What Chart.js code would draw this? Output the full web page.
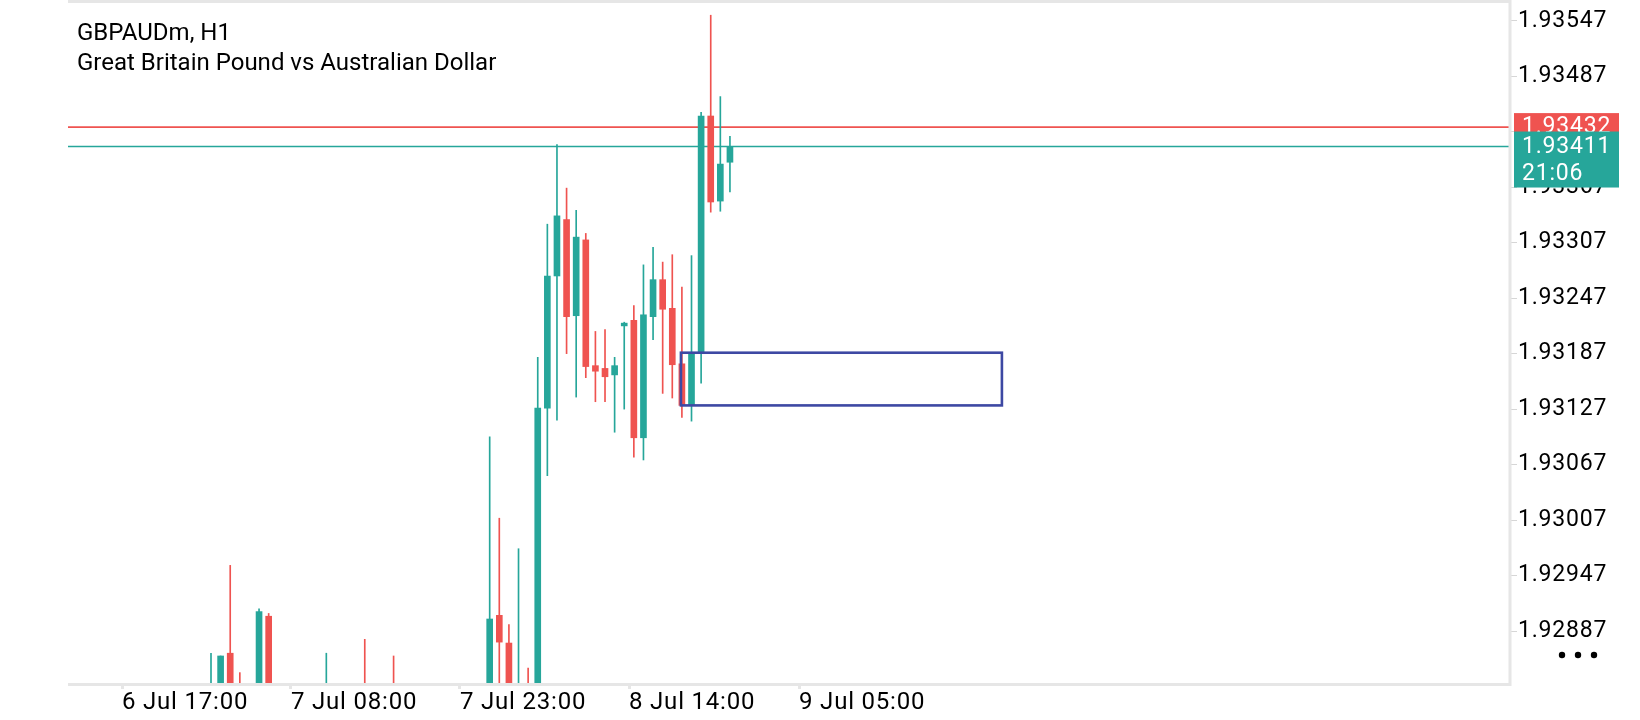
<!DOCTYPE html>
<html>
<head>
<meta charset="utf-8">
<title>GBPAUDm, H1</title>
<script src="https://cdn.jsdelivr.net/npm/chart.js@4.4.1/dist/chart.umd.min.js"></script>
<style>
  html, body { margin: 0; padding: 0; background: #fff; }
  #wrap { position: relative; width: 1640px; height: 720px; overflow: hidden; }
  #chart { position: absolute; left: 0; top: 0; }
  .title { position: absolute; left: 77px; font-family: Roboto, sans-serif; font-size: 24px;
           line-height: 28px; color: #000; white-space: nowrap; }
</style>
</head>
<body>
<div id="wrap">
  <canvas id="chart" width="1640" height="720"></canvas>
  <div class="title" style="top:18px">GBPAUDm, H1</div>
  <div class="title" style="top:48px">Great Britain Pound vs Australian Dollar</div>
</div>
<script>
// ── Data (H1 candles, bar index along x) ────────────────────────────────────────
const barIdx = [0, 1, 2, 3, 5, 6, 12, 16, 19, 29, 30, 31, 32, 33, 34, 35, 36, 37, 38, 39,
                40, 41, 42, 43, 44, 45, 46, 47, 48, 49, 50, 51, 52, 53, 54];
const opens  = [1.92795, 1.92805, 1.92863, 1.92812, 1.92795, 1.92903, 1.92780, 1.92815, 1.92810, 1.92780,
                1.92904, 1.92874, 1.92790, 1.92815, 1.92800, 1.93128, 1.93271, 1.93332, 1.93228, 1.93310,
                1.93174, 1.93171, 1.93164, 1.93217, 1.93223, 1.93096, 1.93227, 1.93267, 1.93236, 1.93176,
                1.93131, 1.93188, 1.93444, 1.93352, 1.93394];
const highs  = [1.92863, 1.92860, 1.92958, 1.92842, 1.92911, 1.92906, 1.92863, 1.92878, 1.92860, 1.93097,
                1.93009, 1.92894, 1.92976, 1.92847, 1.93183, 1.93327, 1.93413, 1.93366, 1.93342, 1.93317,
                1.93211, 1.93213, 1.93183, 1.93221, 1.93239, 1.93283, 1.93302, 1.93286, 1.93294, 1.93259,
                1.93293, 1.93448, 1.93553, 1.93465, 1.93422];
const lows   = [1.92770, 1.92790, 1.92785, 1.92770, 1.92780, 1.92770, 1.92760, 1.92770, 1.92760, 1.92760,
                1.92790, 1.92780, 1.92760, 1.92760, 1.92780, 1.93055, 1.93115, 1.93187, 1.93140, 1.93161,
                1.93135, 1.93135, 1.93102, 1.93127, 1.93075, 1.93072, 1.93202, 1.93144, 1.93139, 1.93118,
                1.93114, 1.93155, 1.93340, 1.93341, 1.93362];
const closes = [1.92815, 1.92860, 1.92800, 1.92790, 1.92908, 1.92790, 1.92810, 1.92790, 1.92780, 1.92900,
                1.92875, 1.92800, 1.92820, 1.92790, 1.93128, 1.93271, 1.93336, 1.93227, 1.93313, 1.93173,
                1.93168, 1.93162, 1.93174, 1.93220, 1.93096, 1.93229, 1.93267, 1.93235, 1.93175, 1.93131,
                1.93187, 1.93444, 1.93351, 1.93392, 1.93411];

const xTickPos    = [-9.26, 8.32, 25.91, 43.50, 61.19];
const xTickLabels = ['6 Jul 17:00', '7 Jul 08:00', '7 Jul 23:00', '8 Jul 14:00', '9 Jul 05:00'];
const yTickVals   = [1.92887, 1.92947, 1.93007, 1.93067, 1.93127, 1.93187,
                     1.93247, 1.93307, 1.93367, 1.93427, 1.93487, 1.93547];

const askPrice = 1.93432;
const bidPrice = 1.93411;
const barTimer = '21:06';

// zone drawn on the chart (bar index / price)
const zoneX = [48.9, 82.3];
const zoneY = [1.93131, 1.93188];

// ── Styling ─────────────────────────────────────────────────────────────────────
const GREEN = '#26a69a';
const RED   = '#ef5350';
const BLUE  = '#3d48a3';
const FRAME = '#e6e6e6';
const FONT  = 'Roboto, sans-serif';

const candleCol = barIdx.map((_, i) => closes[i] >= opens[i] ? GREEN : RED);
const bodies = barIdx.map((x, i) => ({ x, y: [opens[i], closes[i]] }));
const wicks  = barIdx.map((x, i) => ({ x, y: [lows[i], highs[i]] }));

const overlay = {
  id: 'overlay',
  beforeDraw(chart) {
    chart.ctx.letterSpacing = '0.8px';
  },
  beforeDatasetsDraw(chart) {
    const { ctx, chartArea: a, scales: { y } } = chart;
    ctx.save();
    ctx.lineWidth = 1.6;
    [[askPrice, RED], [bidPrice, GREEN]].forEach(([p, c]) => {
      const py = y.getPixelForValue(p);
      ctx.strokeStyle = c;
      ctx.beginPath(); ctx.moveTo(a.left, py); ctx.lineTo(a.right, py); ctx.stroke();
    });
    ctx.restore();
  },
  afterDatasetsDraw(chart) {
    const { ctx, scales: { x, y } } = chart;
    const x0 = x.getPixelForValue(zoneX[0]), x1 = x.getPixelForValue(zoneX[1]);
    const y0 = y.getPixelForValue(zoneY[1]), y1 = y.getPixelForValue(zoneY[0]);
    ctx.save();
    ctx.strokeStyle = BLUE; ctx.lineWidth = 2.6;
    ctx.strokeRect(x0, y0, x1 - x0, y1 - y0);
    ctx.restore();
  },
  afterDraw(chart) {
    const { ctx, chartArea: a, scales: { y } } = chart;
    ctx.save();
    // frame: top, right, bottom
    ctx.strokeStyle = FRAME; ctx.lineWidth = 3;
    ctx.beginPath();
    ctx.moveTo(a.left, 1.5); ctx.lineTo(a.right + 1.5, 1.5);
    ctx.moveTo(a.right, 0); ctx.lineTo(a.right, a.bottom + 1.5);
    ctx.moveTo(a.left, a.bottom + 0.5); ctx.lineTo(a.right + 1.5, a.bottom + 0.5);
    ctx.stroke();

    // price labels
    const bx = a.right + 4, bw = 105;
    const ya = y.getPixelForValue(askPrice), yb = y.getPixelForValue(bidPrice);
    ctx.font = '23px ' + FONT; ctx.textBaseline = 'middle'; ctx.textAlign = 'left';
    ctx.fillStyle = RED;   ctx.fillRect(bx, ya - 14, bw, 28);
    ctx.fillStyle = '#fff'; ctx.fillText(askPrice.toFixed(5), bx + 8, ya);
    ctx.fillStyle = GREEN; ctx.fillRect(bx, yb - 15, bw, 56);
    ctx.fillStyle = '#fff';
    ctx.fillText(bidPrice.toFixed(5), bx + 8, yb + 1);
    ctx.fillText(barTimer, bx + 8, yb + 28);

    // menu dots
    ctx.fillStyle = '#000';
    [52, 68, 84].forEach(dx => {
      ctx.beginPath(); ctx.arc(a.right + dx, 655, 3.2, 0, Math.PI * 2); ctx.fill();
    });
    ctx.restore();
  }
};

new Chart(document.getElementById('chart').getContext('2d'), {
  type: 'bar',
  data: {
    datasets: [{
      data: wicks,
      backgroundColor: candleCol,
      barThickness: 1,
      grouped: false,
      clip: 0,
      order: 2,
    }, {
      data: bodies,
      backgroundColor: candleCol,
      barThickness: 6,
      minBarLength: 1,
      grouped: false,
      clip: 0,
      order: 1,
    }]
  },
  options: {
    responsive: false,
    animation: false,
    events: [],
    layout: { padding: { left: 68, top: 2, right: 0, bottom: 0 } },
    plugins: { legend: { display: false }, tooltip: { enabled: false } },
    scales: {
      x: {
        type: 'linear', min: -14.88, max: 135.17, offset: false,
        afterBuildTicks: s => { s.ticks = xTickPos.map(v => ({ value: v })); },
        afterFit: s => { s.height = 36; s.paddingLeft = 0; s.paddingRight = 0; },
        ticks: { autoSkip: false, maxRotation: 0, align: 'start', padding: 0, color: '#000',
                 font: { family: FONT, size: 24 }, callback: (v, i) => xTickLabels[i] },
        grid: { drawOnChartArea: false, tickLength: 5, color: FRAME, lineWidth: 3, offset: false },
        border: { display: false }
      },
      y: {
        type: 'linear', position: 'right', min: 1.928297, max: 1.935673,
        afterBuildTicks: s => { s.ticks = yTickVals.map(v => ({ value: v })); },
        afterFit: s => { s.width = 130; s.paddingTop = 0; s.paddingBottom = 0; },
        ticks: { autoSkip: false, padding: 1, color: '#000',
                 font: { family: FONT, size: 23 }, callback: v => v.toFixed(5) },
        grid: { drawOnChartArea: false, tickLength: 7, color: '#d6d6d6', lineWidth: 1 },
        border: { display: false }
      }
    }
  },
  plugins: [overlay]
});
</script>
</body>
</html>
